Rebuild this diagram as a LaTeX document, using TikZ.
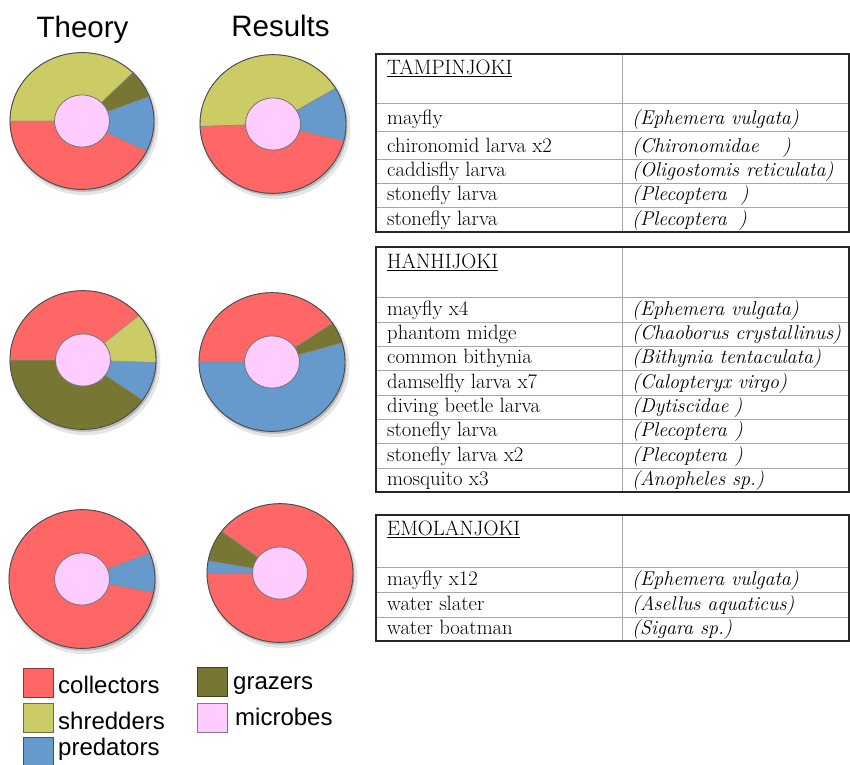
\documentclass[tikz,border=0pt]{standalone}
\usepackage{fontspec}
\newfontfamily\sansf{Liberation Sans}
\definecolor{collectors}{RGB}{255,102,102}
\definecolor{shredders}{RGB}{204,204,102}
\definecolor{predators}{RGB}{102,153,204}
\definecolor{grazers}{RGB}{119,119,51}
\definecolor{microbes}{RGB}{255,204,255}
\newcommand{\Ro}{72}
\newcommand{\dslice}[3]{\fill[#3, draw=black!45, line width=0.5pt] (0,0) -- (#1:\Ro pt) arc[start angle=#1, end angle=#2, radius=\Ro pt] -- cycle;}
\newcommand{\dshadow}{%
  \fill[black!10] (2.5,-4) circle[radius=\Ro pt+2pt];
  \fill[black!28] (1.5,-2.5) circle[radius=\Ro pt];}
\newcommand{\dtop}{%
  \draw[black!70, line width=0.9pt] (0,0) circle[radius=\Ro pt];
  \fill[microbes, draw=black!55, line width=0.8pt] (0,0) circle[radius=27.5pt];}
\begin{document}
\begin{tikzpicture}[x=1pt,y=1pt,
  tline/.style={draw=black!35, line width=0.9pt},
  tborder/.style={draw=black!85, line width=1.3pt},
  cell/.style={anchor=base west, inner sep=0pt, font=\fontsize{20.7}{24}\selectfont},
  hcell/.style={anchor=base west, inner sep=0pt, font=\fontsize{20.8}{24}\selectfont},
  icell/.style={anchor=base west, inner sep=0pt, font=\fontsize{19.9}{24}\selectfont\itshape},
  title/.style={anchor=base, inner sep=0pt, font=\sansf\fontsize{29.5}{34}\selectfont},
  legtext/.style={anchor=base west, inner sep=0pt, font=\sansf\fontsize{24}{28}\selectfont},
  legbox/.style={minimum width=30pt, minimum height=29pt, inner sep=0pt, line width=0.9pt}]
\useasboundingbox (0,0) rectangle (850,-764);
\fill[white] (0,0) rectangle (850,-764);

% titles
\node[title] (theory) at (82.5,-37) {Theory};
\node[title] (results) at (280.5,-36) {Results};

% donut 1: Theory, Tampinjoki
\begin{scope}[shift={(82,-121)}, yscale=0.95]
\renewcommand{\Ro}{72}
\dshadow
\dslice{45}{180}{shredders}
\dslice{180}{334}{collectors}
\dslice{334}{381}{predators}
\dslice{381}{405}{grazers}
\dtop
\end{scope}
% donut 2: Results, Tampinjoki
\begin{scope}[shift={(273,-124)}, yscale=0.95]
\renewcommand{\Ro}{73}
\dshadow
\dslice{31}{182}{shredders}
\dslice{182}{346}{collectors}
\dslice{346}{391}{predators}
\dtop
\end{scope}
% donut 3: Theory, Hanhijoki
\begin{scope}[shift={(83,-360)}, yscale=0.95]
\renewcommand{\Ro}{73}
\dshadow
\dslice{40}{180}{collectors}
\dslice{180}{325}{grazers}
\dslice{325}{358}{predators}
\dslice{358}{400}{shredders}
\dtop
\end{scope}
% donut 4: Results, Hanhijoki
\begin{scope}[shift={(272,-362)}, yscale=0.95]
\renewcommand{\Ro}{73}
\dshadow
\dslice{34}{180}{collectors}
\dslice{180}{376}{predators}
\dslice{376}{394}{grazers}
\dtop
\end{scope}
% donut 5: Theory, Emolanjoki
\begin{scope}[shift={(82,-579)}, yscale=0.95]
\renewcommand{\Ro}{73}
\dshadow
\dslice{22}{349}{collectors}
\dslice{349}{382}{predators}
\dtop
\end{scope}
% donut 6: Results, Emolanjoki
\begin{scope}[shift={(280,-573)}, yscale=0.95]
\renewcommand{\Ro}{73}
\dshadow
\dslice{180}{503}{collectors}
\dslice{143}{170}{grazers}
\dslice{170}{180}{predators}
\dtop
\end{scope}

% legend
\node[legbox, fill=collectors, draw=collectors!55!black] (lbcol) at (38,-682.5) {};
\node[legbox, fill=shredders, draw=shredders!55!black] (lbshr) at (38,-717.5) {};
\node[legbox, fill=predators, draw=predators!55!black] (lbpre) at (38,-752) {};
\node[legbox, fill=grazers, draw=grazers!55!black] (lbgra) at (212.5,-682) {};
\node[legbox, fill=microbes, draw=microbes!55!black] (lbmic) at (212.5,-718) {};
\node[legtext] (ltcol) at (58,-693) {collectors};
\node[legtext] (ltshr) at (58,-729) {shredders};
\node[legtext] (ltpre) at (58,-755) {predators};
\node[legtext] (ltgra) at (233,-689) {grazers};
\node[legtext] (ltmic) at (235,-725) {microbes};

% table 1
\foreach \yy in {103,131,159,183,207} \draw[tline] (376,-\yy) -- (849,-\yy);
\draw[tline] (622,-54) -- (622,-232);
\draw[tborder] (376,-54) rectangle (849,-232);
\node[hcell] (a0) at (387,-74) {\underline{TAMPINJOKI}};
\node[cell] (a1) at (387,-124) {mayfly};
\node[cell] (a2) at (387,-152) {chironomid larva x2};
\node[cell] (a3) at (387,-176) {caddisfly larva};
\node[cell] (a4) at (387,-200) {stonefly larva};
\node[cell] (a5) at (387,-225) {stonefly larva};
\node[icell] (b1) at (632,-124) {(Ephemera vulgata)};
\node[icell] (b2) at (632,-152) {(Chironomidae\hspace{24pt})};
\node[icell] (b3) at (632,-176) {(Oligostomis reticulata)};
\node[icell] (b4) at (632,-200) {(Plecoptera\hspace{14pt})};
\node[icell] (b5) at (632,-225) {(Plecoptera\hspace{12pt})};

% table 2
\foreach \yy in {297,322,346,370,395,419,443,468} \draw[tline] (376,-\yy) -- (849,-\yy);
\draw[tline] (622,-247) -- (622,-492);
\draw[tborder] (376,-247) rectangle (849,-492);
\node[hcell] (c0) at (387,-268) {\underline{HANHIJOKI}};
\node[cell] (c1) at (387,-315) {mayfly x4};
\node[cell] (c2) at (387,-339) {phantom midge};
\node[cell] (c3) at (387,-363) {common bithynia};
\node[cell] (c4) at (387,-388) {damselfly larva x7};
\node[cell] (c5) at (387,-412) {diving beetle larva};
\node[cell] (c6) at (387,-436) {stonefly larva};
\node[cell] (c7) at (387,-461) {stonefly larva x2};
\node[cell] (c8) at (387,-485) {mosquito x3};
\node[icell] (d1) at (632,-315) {(Ephemera vulgata)};
\node[icell] (d2) at (632,-339) {(Chaoborus crystallinus)};
\node[icell] (d3) at (632,-363) {(Bithynia tentaculata)};
\node[icell] (d4) at (632,-388) {(Calopteryx virgo)};
\node[icell] (d5) at (632,-412) {(Dytiscidae\hspace{6pt})};
\node[icell] (d6) at (632,-436) {(Plecoptera\hspace{8pt})};
\node[icell] (d7) at (632,-461) {(Plecoptera\hspace{8pt})};
\node[icell] (d8) at (632,-485) {(Anopheles sp.)};

% table 3
\foreach \yy in {567,592,617} \draw[tline] (376,-\yy) -- (849,-\yy);
\draw[tline] (622,-515) -- (622,-641);
\draw[tborder] (376,-515) rectangle (849,-641);
\node[hcell] (e0) at (387,-535) {\underline{EMOLANJOKI}};
\node[cell] (e1) at (387,-585) {mayfly x12};
\node[cell] (e2) at (387,-610) {water slater};
\node[cell] (e3) at (387,-634) {water boatman};
\node[icell] (f1) at (632,-585) {(Ephemera vulgata)};
\node[icell] (f2) at (632,-610) {(Asellus aquaticus)};
\node[icell] (f3) at (632,-634) {(Sigara sp.)};
\end{tikzpicture}
\end{document}
